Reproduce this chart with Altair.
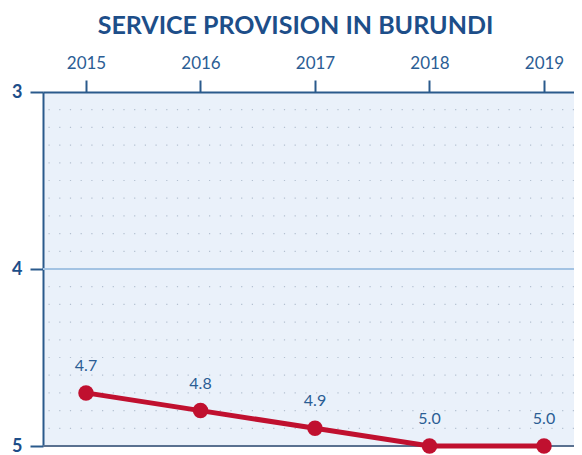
import altair as alt
import pandas as pd

years = [2015, 2016, 2017, 2018, 2019]
values = [4.7, 4.8, 4.9, 5.0, 5.0]
y_ticks = [3, 4, 5]
grid_levels = [3.1, 3.2, 3.3, 3.4, 3.5, 3.6, 3.7, 3.8, 3.9,
               4.1, 4.2, 4.3, 4.4, 4.5, 4.6, 4.7, 4.8, 4.9]
major_level = [4]
bottom_level = [5]

df = pd.DataFrame({"year": years, "value": values})

FONT = "Lato"
DARK = "#2a5a8c"
TXT = "#2b5d94"

yscale = alt.Scale(domain=[y_ticks[0], y_ticks[-1]], reverse=True, nice=False, zero=False)
xscale = alt.Scale(domain=[2014.6245, 2019.262], nice=False, zero=False)

yaxis = alt.Axis(tickCount=len(y_ticks) - 1, format="d",
                 labelFont=FONT, labelFontSize=18, labelFontWeight="bold",
                 labelColor="#1d4e89", labelPadding=8, tickSize=13,
                 tickWidth=2, tickColor=DARK, domainColor=DARK,
                 domainWidth=2, grid=False, labelOverlap=False)

grid = alt.Chart(pd.DataFrame({"lvl": grid_levels})).mark_rule(
    color="#b3c0d0", strokeWidth=1.2, strokeDash=[1.2, 9.5]
).encode(y=alt.Y("lvl:Q", scale=yscale, axis=yaxis, title=None))

major = alt.Chart(pd.DataFrame({"lvl": major_level})).mark_rule(
    color="#a3c3e3", strokeWidth=2
).encode(y=alt.Y("lvl:Q", scale=yscale, axis=yaxis, title=None))

bottom = alt.Chart(pd.DataFrame({"lvl": bottom_level})).mark_rule(
    color="#5a7190", strokeWidth=2
).encode(y=alt.Y("lvl:Q", scale=yscale, axis=yaxis, title=None))

base = alt.Chart(df).encode(
    x=alt.X("year:Q", scale=xscale, title=None,
            axis=alt.Axis(orient="top", values=years, format="d",
                          labelFont=FONT, labelFontSize=17, labelColor=TXT,
                          labelPadding=8, tickSize=12, tickWidth=2, tickColor=DARK,
                          domainColor=DARK, domainWidth=2, grid=False)),
    y=alt.Y("value:Q", scale=yscale, axis=yaxis, title=None),
)

line = base.mark_line(color="#c0102f", strokeWidth=5)
points = base.mark_circle(color="#c0102f", size=240, opacity=1)
labels = base.mark_text(font=FONT, fontSize=16, color=TXT, dy=-27).encode(
    text=alt.Text("value:Q", format=".1f"))

chart = alt.layer(grid, major, bottom, line, points, labels).properties(
    width=531, height=354,
    autosize=alt.AutoSizeParams(type="none"),
    padding={"left": 35, "top": 84, "right": 0, "bottom": 8},
    title=alt.TitleParams("SERVICE PROVISION IN BURUNDI", font=FONT, fontSize=25,
                          fontWeight="bold", color="#1d4e89", anchor="middle",
                          offset=15, dx=-13),
).configure_view(fill="#eaf1fa", stroke=None)

chart.save("out.html", embed_options={"renderer": "svg", "actions": False})
